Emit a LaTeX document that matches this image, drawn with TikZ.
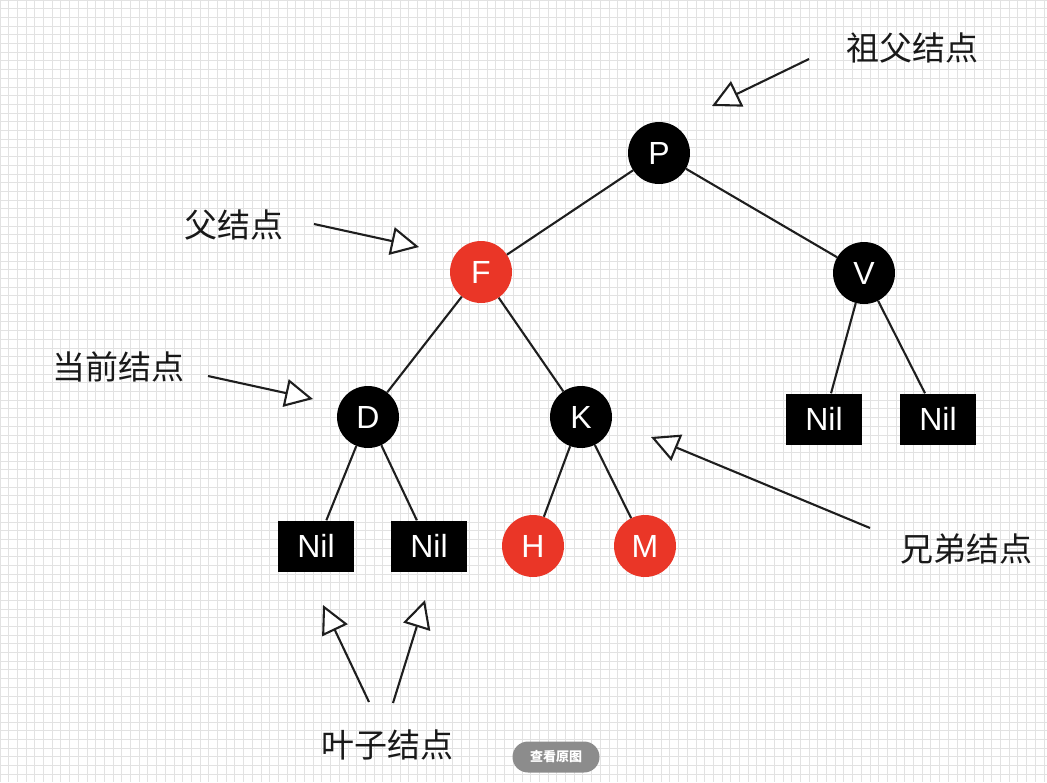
\documentclass[tikz,border=0pt]{standalone}
\usepackage{fontspec}
\setmainfont{Liberation Sans}
\newfontfamily\cjk{Noto Sans CJK SC}
\usetikzlibrary{arrows.meta}
\definecolor{nodered}{RGB}{234,54,39}
\definecolor{edgecol}{RGB}{30,30,30}
\definecolor{gridcol}{RGB}{226,226,226}
\definecolor{btngray}{RGB}{140,140,140}
\begin{document}
\begin{tikzpicture}[x=1pt,y=-1pt,
  treenode/.style={circle,minimum size=62pt,inner sep=0pt,text=white,font=\fontsize{32}{32}\selectfont},
  blacknode/.style={treenode,fill=black},
  rednode/.style={treenode,fill=nodered},
  nilbox/.style={rectangle,fill=black,minimum width=76pt,minimum height=51pt,inner sep=0pt,text=white,font=\fontsize{32}{32}\selectfont},
  treeedge/.style={draw=edgecol,line width=2.1pt},
  ptrarrow/.style={draw=edgecol,line width=2.1pt,-{Triangle[length=28pt,width=28pt,fill=white]}},
  cjklabel/.style={font=\cjk\fontsize{33}{33}\selectfont,text=black!90,inner sep=0pt}]
\useasboundingbox (0,0) rectangle (1047,782);
\fill[white] (0,0) rectangle (1047,782);
\foreach \i in {0,...,120} { \draw[gridcol,line width=0.9pt] (\i*8.7,0) -- (\i*8.7,782); }
\foreach \j in {0,...,90} { \draw[gridcol,line width=0.9pt] (0,\j*8.7) -- (1047,\j*8.7); }

% tree nodes
\node[blacknode] (P) at (659,153) {P};
\node[rednode]   (F) at (481,272) {F};
\node[blacknode] (V) at (864,273) {V};
\node[blacknode] (D) at (368,417) {D};
\node[blacknode] (K) at (581,417) {K};
\node[rednode]   (H) at (533,546) {H};
\node[rednode]   (M) at (645,546) {M};
\node[nilbox] (N1) at (316,546) {Nil};
\node[nilbox] (N2) at (429,546) {Nil};
\node[nilbox] (N3) at (824,419) {Nil};
\node[nilbox] (N4) at (938,419) {Nil};

% edges
\draw[treeedge] (P) -- (F);
\draw[treeedge] (P) -- (V);
\draw[treeedge] (F) -- (D);
\draw[treeedge] (F) -- (K);
\draw[treeedge] (D) -- (N1);
\draw[treeedge] (D) -- (N2);
\draw[treeedge] (K) -- (H);
\draw[treeedge] (K) -- (M);
\draw[treeedge] (V) -- (N3);
\draw[treeedge] (V) -- (N4);

% labels
\node[cjklabel] (Lgp) at (912,48) {祖父结点};
\node[cjklabel] (Lp) at (234,225) {父结点};
\node[cjklabel] (Lc) at (118,367) {当前结点};
\node[cjklabel] (Ls) at (966,549) {兄弟结点};
\node[cjklabel] (Ll) at (387,745) {叶子结点};

% pointer coordinates
\coordinate (gpS) at (809,59);  \coordinate (gpT) at (712,106);
\coordinate (pS) at (314,224);  \coordinate (pT) at (419,247);
\coordinate (cS) at (208,376);  \coordinate (cT) at (313,399);
\coordinate (sS) at (870,528);  \coordinate (sT) at (651,437);
\coordinate (l1S) at (369,702); \coordinate (l1T) at (323,605);
\coordinate (l2S) at (393,703); \coordinate (l2T) at (425,600);

\draw[ptrarrow] (gpS) -- (gpT);
\draw[ptrarrow] (pS) -- (pT);
\draw[ptrarrow] (cS) -- (cT);
\draw[ptrarrow] (sS) -- (sT);
\draw[ptrarrow] (l1S) -- (l1T);
\draw[ptrarrow] (l2S) -- (l2T);

% button
\node[fill=btngray,rounded corners=15.5pt,minimum width=87pt,minimum height=31pt,inner sep=0pt,text=white,font=\cjk\bfseries\fontsize{13}{13}\selectfont] (btn) at (556,757) {查看原图};
\end{tikzpicture}
\end{document}
